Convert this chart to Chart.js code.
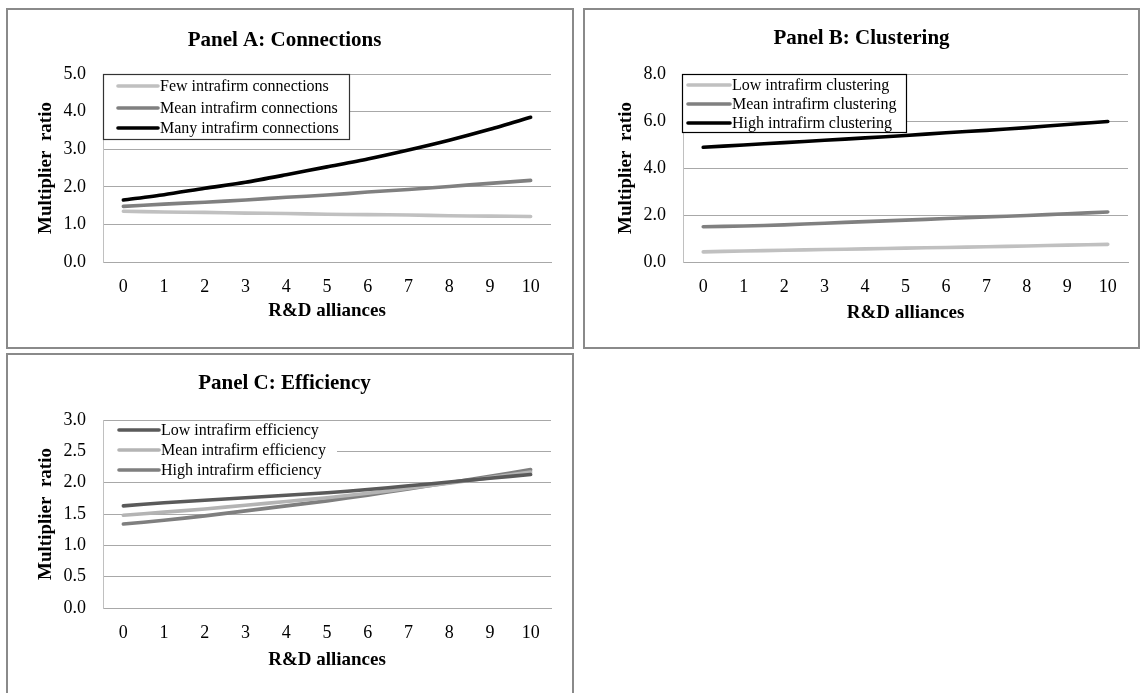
<!DOCTYPE html>
<html>
<head>
<meta charset="utf-8">
<script src="https://cdn.jsdelivr.net/npm/chart.js@4.4.0/dist/chart.umd.min.js"></script>
<style>
  html, body { margin: 0; padding: 0; background: #fff; width: 1141px; height: 693px; overflow: hidden; }
  .panel { position: absolute; border: 2px solid #8a8a8a; }
  .panel canvas { display: block; }
</style>
</head>
<body>
<div class="panel" style="left:6px;top:8px;width:564px;height:337px"><canvas id="chartA" width="564" height="337"></canvas></div>
<div class="panel" style="left:583px;top:8px;width:553px;height:337px"><canvas id="chartB" width="553" height="337"></canvas></div>
<div class="panel" style="left:6px;top:353px;width:564px;height:340px"><canvas id="chartC" width="564" height="340"></canvas></div>
<script>
// categories
const alliances = ["0", "1", "2", "3", "4", "5", "6", "7", "8", "9", "10"];

// Panel A: Connections
const fewConnections = [1.35, 1.33, 1.32, 1.30, 1.29, 1.27, 1.26, 1.25, 1.23, 1.22, 1.21];
const meanConnections = [1.48, 1.54, 1.59, 1.65, 1.72, 1.78, 1.86, 1.93, 2.01, 2.09, 2.17];
const manyConnections = [1.65, 1.79, 1.96, 2.12, 2.32, 2.53, 2.74, 2.98, 3.24, 3.53, 3.85];

// Panel B: Clustering
const lowClustering = [0.43, 0.47, 0.50, 0.53, 0.56, 0.59, 0.62, 0.65, 0.68, 0.72, 0.75];
const meanClustering = [1.50, 1.53, 1.58, 1.65, 1.72, 1.78, 1.85, 1.92, 1.98, 2.05, 2.13];
const highClustering = [4.88, 4.98, 5.08, 5.18, 5.28, 5.38, 5.50, 5.60, 5.72, 5.85, 5.98];

// Panel C: Efficiency
const lowEfficiency = [1.63, 1.68, 1.72, 1.76, 1.80, 1.84, 1.89, 1.95, 2.01, 2.07, 2.13];
const meanEfficiency = [1.48, 1.53, 1.58, 1.64, 1.70, 1.76, 1.83, 1.91, 1.99, 2.08, 2.17];
const highEfficiency = [1.34, 1.40, 1.47, 1.55, 1.63, 1.71, 1.80, 1.90, 2.00, 2.10, 2.21];

// y axis ranges
const yMaxA = 5, yStepA = 1;
const yMaxB = 8, yStepB = 2;
const yMaxC = 3, yStepC = 0.5;

const serif = "'Liberation Serif', 'Times New Roman', serif";

// legend drawn inside the plot, on a white box
const boxLegend = {
  id: "boxLegend",
  afterDatasetsDraw(chart, args, opts) {
    const { ctx, chartArea } = chart;
    const x0 = chartArea.left + opts.x;
    const y0 = chartArea.top + opts.y;
    ctx.save();
    ctx.fillStyle = "#fff";
    ctx.fillRect(x0, y0, opts.w, opts.h);
    if (opts.border) {
      ctx.strokeStyle = opts.border;
      ctx.lineWidth = 1.2;
      ctx.strokeRect(x0 + 0.5, y0 + 0.5, opts.w - 1, opts.h - 1);
    }
    ctx.font = "16px " + serif;
    ctx.textBaseline = "middle";
    ctx.lineCap = "round";
    chart.data.datasets.forEach((ds, i) => {
      const y = y0 + opts.rows[i];
      ctx.strokeStyle = ds.borderColor;
      ctx.lineWidth = 3.6;
      ctx.beginPath();
      ctx.moveTo(x0 + opts.lineFrom, y);
      ctx.lineTo(x0 + opts.lineTo, y);
      ctx.stroke();
      ctx.fillStyle = "#000";
      ctx.fillText(ds.label, x0 + opts.lineTo + 2, y + 1);
    });
    ctx.restore();
  },
};

function makePanel(canvasId, title, series, yMax, yStep, area, legendOpts) {
  const canvas = document.getElementById(canvasId);
  const W = canvas.width, H = canvas.height;
  const padL = 10;
  const titleLH = 25.2, axisLH = 22.8;
  return new Chart(canvas, {
    type: "line",
    data: {
      labels: alliances,
      datasets: series.map((s) => ({
        label: s.label,
        data: s.data,
        borderColor: s.color,
        borderWidth: 3.6,
        borderCapStyle: "round",
        pointRadius: 0,
        tension: 0.25,
        fill: false,
      })),
    },
    plugins: [boxLegend],
    options: {
      responsive: false,
      animation: false,
      devicePixelRatio: 1,
      layout: { padding: { left: padL, right: W - area.right, top: 0, bottom: 0 } },
      plugins: {
        legend: { display: false },
        tooltip: { enabled: false },
        title: {
          display: true,
          text: title,
          color: "#000",
          font: { family: serif, size: 21, weight: "bold" },
          padding: { top: area.titleY - titleLH / 2, bottom: area.top - area.titleY - titleLH / 2 },
        },
        boxLegend: legendOpts,
      },
      scales: {
        x: {
          offset: true,
          grid: { display: false, drawTicks: false },
          border: { display: true, color: "#a8a8a8", width: 1 },
          ticks: { color: "#000", font: { family: serif, size: 18 }, padding: 14, maxRotation: 0 },
          title: {
            display: true,
            text: "R&D alliances",
            color: "#000",
            font: { family: serif, size: 19, weight: "bold" },
            padding: { top: 0, bottom: H - area.xTitleY - axisLH / 2 },
          },
          afterFit(scale) {
            scale.height = H - area.bottom;
          },
        },
        y: {
          min: 0,
          max: yMax,
          grid: { color: "#a8a8a8", lineWidth: 1, drawTicks: false },
          border: { display: true, color: "#c0c0c0", width: 1 },
          ticks: {
            stepSize: yStep,
            color: "#000",
            font: { family: serif, size: 18 },
            padding: 17,
            callback: (v) => Number(v).toFixed(1),
          },
          title: {
            display: true,
            text: "Multiplier  ratio",
            color: "#000",
            font: { family: serif, size: 19, weight: "bold" },
            padding: { top: area.yTitleX - padL - axisLH / 2, bottom: 0 },
          },
          afterFit(scale) {
            scale.width = area.left - padL;
          },
        },
      },
    },
  });
}

makePanel(
  "chartA",
  "Panel A: Connections",
  [
    { label: "Few intrafirm connections", data: fewConnections, color: "#c0c0c0" },
    { label: "Mean intrafirm connections", data: meanConnections, color: "#808080" },
    { label: "Many intrafirm connections", data: manyConnections, color: "#000000" },
  ],
  yMaxA, yStepA,
  { left: 95, right: 543, top: 64, bottom: 252, titleY: 31, xTitleY: 301, yTitleX: 38 },
  { x: 0, y: 0, w: 247, h: 66, border: "#333", rows: [12, 34, 54], lineFrom: 15, lineTo: 55 }
);

makePanel(
  "chartB",
  "Panel B: Clustering",
  [
    { label: "Low intrafirm clustering", data: lowClustering, color: "#c0c0c0" },
    { label: "Mean intrafirm clustering", data: meanClustering, color: "#808080" },
    { label: "High intrafirm clustering", data: highClustering, color: "#000000" },
  ],
  yMaxB, yStepB,
  { left: 98, right: 543, top: 64, bottom: 252, titleY: 29, xTitleY: 303, yTitleX: 41 },
  { x: -1, y: 0, w: 225, h: 59, border: "#000", rows: [11, 30, 49], lineFrom: 6, lineTo: 48 }
);

makePanel(
  "chartC",
  "Panel C: Efficiency",
  [
    { label: "Low intrafirm efficiency", data: lowEfficiency, color: "#5a5a5a" },
    { label: "Mean intrafirm efficiency", data: meanEfficiency, color: "#b4b4b4" },
    { label: "High intrafirm efficiency", data: highEfficiency, color: "#7f7f7f" },
  ],
  yMaxC, yStepC,
  { left: 95, right: 543, top: 65, bottom: 253, titleY: 29, xTitleY: 305, yTitleX: 38 },
  { x: 1, y: 2, w: 233, h: 58, border: null, rows: [8, 28, 48], lineFrom: 15, lineTo: 55 }
);
</script>
</body>
</html>
